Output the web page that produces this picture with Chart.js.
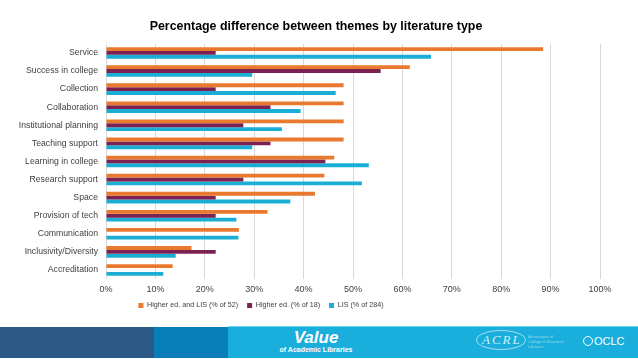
<!DOCTYPE html>
<html>
<head>
<meta charset="utf-8">
<script src="https://cdn.jsdelivr.net/npm/chart.js@4"></script>
<style>
  body { margin: 0; background: #fff; font-family: "Liberation Sans", Arial, sans-serif; }
  #wrap { position: relative; width: 638px; height: 326px; }
  #footer { position: absolute; top: 327px; left: 0; width: 638px; height: 32px; }
  .seg { position: absolute; top: 0; height: 31px; }
  .ftxt { position: absolute; color: #fff; text-align: center; width: 200px; left: 216px; }
</style>
</head>
<body>
<div id="wrap"><canvas id="themeChart" width="638" height="326"></canvas></div>
<div id="footer">
  <div class="seg" style="left:0;width:154px;background:#2b5a87"></div>
  <div class="seg" style="left:154px;width:74px;background:#0a7eb8"></div>
  <div class="seg" style="left:228px;width:410px;background:#1aaedc;border-top:1px solid #6fd3ef;top:-1px"></div>
  <div class="ftxt" style="top:1px;font-size:17px;font-weight:bold;font-style:italic">Value</div>
  <div class="ftxt" style="top:19px;font-size:7px;font-weight:bold">of Academic Libraries</div>
  <div style="position:absolute;left:476px;top:3px;width:48px;height:18px;border:1px solid #9fdcf0;border-radius:50%"></div>
  <div style="position:absolute;left:482px;top:5px;color:#cdeef9;font-family:'Liberation Serif',serif;font-style:italic;font-size:13px;letter-spacing:2px">ACRL</div>
  <div style="position:absolute;left:528px;top:7px;color:#9fdcf0;font-size:4px;line-height:5px">Association of<br>College &amp; Research<br>Libraries</div>
  <div style="position:absolute;left:583px;top:9px;width:8px;height:8px;border:1.5px solid #fff;border-radius:50%"></div>
  <div style="position:absolute;left:594px;top:8px;color:#fff;font-size:11px">OCLC</div>
</div>
<script>
document.addEventListener("DOMContentLoaded", () => {
    const themes = ["Service", "Success in college", "Collection", "Collaboration", "Institutional planning",
        "Teaching support", "Learning in college", "Research support", "Space", "Provision of tech",
        "Communication", "Inclusivity/Diversity", "Accreditation"];
    const bothPct = [88.5, 61.5, 48.1, 48.1, 48.1, 48.1, 46.2, 44.2, 42.3, 32.7, 26.9, 17.3, 13.5];
    const higherEdPct = [22.2, 55.6, 22.2, 33.3, 27.8, 33.3, 44.4, 27.8, 22.2, 22.2, 0, 22.2, 0];
    const lisPct = [65.8, 29.6, 46.5, 39.4, 35.6, 29.6, 53.2, 51.8, 37.3, 26.4, 26.8, 14.1, 11.6];
    const seriesNames = ["Higher ed. and LIS (% of 52)", "Higher ed. (% of 18)", "LIS (% of 284)"];

    // excel centres title and legend differently from chart.js, nudge them
    const boxShift = {
        id: "boxShift",
        afterLayout(chart) {
            const t = chart.titleBlock;
            t.left += 16; t.right += 16;
            const lg = chart.legend;
            lg.left -= 39; lg.right -= 39;
            lg.top -= 7; lg.bottom -= 7;
        }
    };

    const ctx = document.getElementById("themeChart").getContext("2d");
    new Chart(ctx, {
        type: "bar",
        data: {
            labels: themes,
            datasets: [
                { label: seriesNames[0], data: bothPct, backgroundColor: "#e8792e" },
                { label: seriesNames[1], data: higherEdPct, backgroundColor: "#7c2253" },
                { label: seriesNames[2], data: lisPct, backgroundColor: "#1aaed4" }
            ]
        },
        options: {
            indexAxis: "y",
            responsive: false,
            animation: false,
            categoryPercentage: 0.64,
            barPercentage: 1,
            layout: { padding: { left: 0, right: 38, top: 0, bottom: 0 } },
            scales: {
                x: {
                    min: 0, max: 100,
                    ticks: { stepSize: 10, callback: v => v + "%", color: "#404040",
                        font: { family: "Liberation Sans", size: 9 }, padding: 5 },
                    grid: { color: "#d9d9d9", drawTicks: false },
                    border: { display: false }
                },
                y: {
                    ticks: { color: "#404040", font: { family: "Liberation Sans", size: 8.7 }, padding: 0 },
                    grid: { display: false },
                    border: { display: false },
                    afterFit: scale => { scale.width = 106; }
                }
            },
            plugins: {
                title: {
                    display: true,
                    text: "Percentage difference between themes by literature type",
                    color: "#000",
                    font: { family: "Liberation Sans", size: 12.4, weight: "bold" },
                    padding: { top: 19, bottom: 10 }
                },
                legend: {
                    position: "bottom",
                    labels: { boxWidth: 5, boxHeight: 5, color: "#404040",
                        font: { family: "Liberation Sans", size: 7.2 }, padding: 9 }
                },
                tooltip: { enabled: false }
            }
        },
        plugins: [boxShift]
    });
});
</script>
</body>
</html>
